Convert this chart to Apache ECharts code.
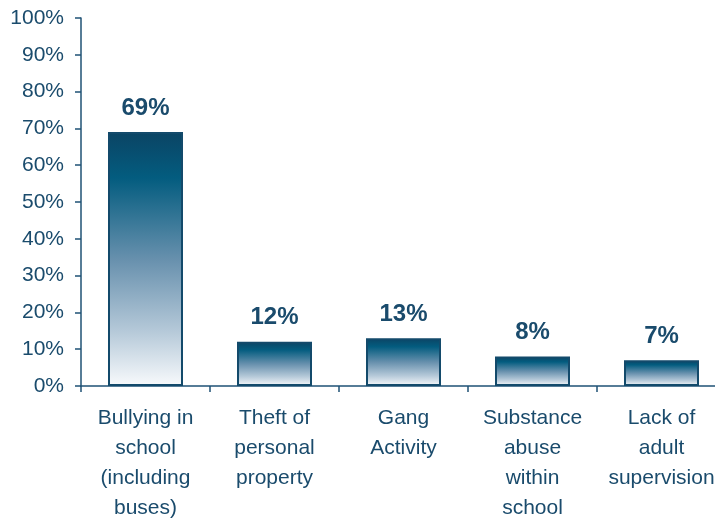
<!DOCTYPE html>
<html>
<head>
<meta charset="utf-8">
<script src="https://cdn.jsdelivr.net/npm/echarts@6/dist/echarts.min.js"></script>
<style>
  html, body { margin: 0; padding: 0; background: #ffffff; }
  #chart { width: 715px; height: 521px; }
</style>
</head>
<body>
<div id="chart"></div>
<script>
// Concerns about school safety: share of respondents per issue
const categories = [
  'Bullying in\nschool\n(including\nbuses)',
  'Theft of\npersonal\nproperty',
  'Gang\nActivity',
  'Substance\nabuse\nwithin\nschool',
  'Lack of\nadult\nsupervision'
];
const values = [69, 12, 13, 8, 7];
const yTicks = [0, 10, 20, 30, 40, 50, 60, 70, 80, 90, 100];

const textColor = '#1a4b6c';
const axisColor = '#1f5275';

const barFill = new echarts.graphic.LinearGradient(0, 0, 0, 1, [
  { offset: 0, color: '#0b4464' },
  { offset: 0.18, color: '#035c7f' },
  { offset: 0.5, color: '#6790ad' },
  { offset: 0.78, color: '#b4c8d8' },
  { offset: 1, color: '#f8fafc' }
]);

const chart = echarts.init(document.getElementById('chart'));
chart.setOption({
  backgroundColor: '#ffffff',
  animation: false,
  // plot area runs a little past the right edge of the canvas
  grid: {
    left: 81, top: 18, width: 645, height: 368,
    containLabel: false,
    outerBoundsMode: 'none'
  },
  xAxis: {
    type: 'category',
    data: categories,
    axisLine: { lineStyle: { color: axisColor, width: 1.5 } },
    axisTick: { show: true, length: 6, lineStyle: { color: axisColor, width: 1.5 } },
    axisLabel: {
      color: textColor,
      fontFamily: 'Liberation Sans, Arial, sans-serif',
      fontSize: 21,
      lineHeight: 30,
      margin: 17,
      interval: 0
    }
  },
  yAxis: {
    type: 'value',
    min: yTicks[0],
    max: yTicks[yTicks.length - 1],
    interval: 10,
    axisLine: { show: true, lineStyle: { color: axisColor, width: 1.5 } },
    axisTick: { show: true, length: 6, lineStyle: { color: axisColor, width: 1.5 } },
    splitLine: { show: false },
    axisLabel: {
      color: textColor,
      fontFamily: 'Liberation Sans, Arial, sans-serif',
      fontSize: 21,
      margin: 17,
      formatter: '{value}%'
    }
  },
  series: [{
    type: 'bar',
    data: values,
    barWidth: 75,
    itemStyle: {
      color: barFill,
      borderColor: '#134a6b',
      borderWidth: 2
    },
    label: {
      show: true,
      position: 'top',
      distance: 12,
      formatter: '{c}%',
      color: textColor,
      fontFamily: 'Liberation Sans, Arial, sans-serif',
      fontWeight: 'bold',
      fontSize: 24
    }
  }]
});
</script>
</body>
</html>
